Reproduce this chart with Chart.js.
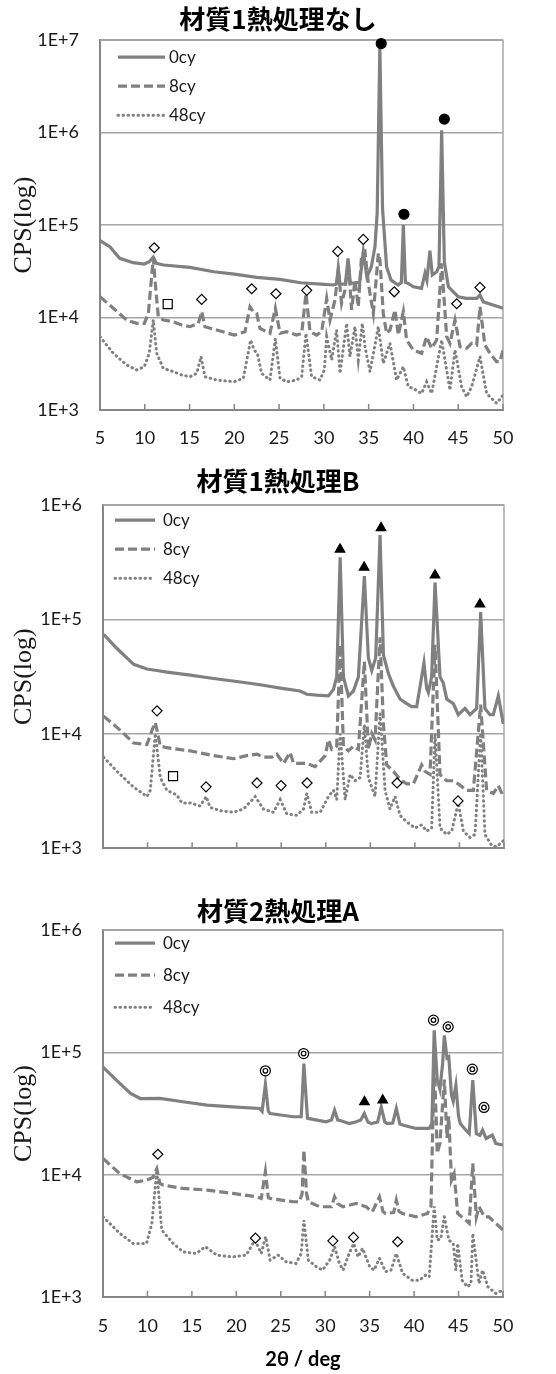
<!DOCTYPE html>
<html>
<head>
<meta charset="utf-8">
<script src="https://cdn.jsdelivr.net/npm/chart.js@4.4.0/dist/chart.umd.min.js"></script>
<style>
  body { margin: 0; background: #fff; width: 556px; height: 1374px; overflow: hidden; }
  .box { position: absolute; left: 0; width: 556px; }
</style>
</head>
<body>
<div class="box" style="top:0;height:455px"><canvas id="c1" width="556" height="455"></canvas></div>
<div class="box" style="top:455px;height:425px"><canvas id="c2" width="556" height="425"></canvas></div>
<div class="box" style="top:880px;height:494px"><canvas id="c3" width="556" height="494"></canvas></div>
<script>
// tick values
const xTicks = [5, 10, 15, 20, 25, 30, 35, 40, 45, 50];
const yTicks1 = [1e3, 1e4, 1e5, 1e6, 1e7];
const yTicks23 = [1e3, 1e4, 1e5, 1e6];
const seriesLabels = ['0cy', '8cy', '48cy'];
const titles = ['材質1熱処理なし', '材質1熱処理B', '材質2熱処理A'];

// ---- 材質1熱処理なし : [2θ, CPS]
const c1_0cy = [[5,68000],[6.1,58300],[7.2,43700],[8.7,39200],[9.95,37900],[10.5,40200],[10.95,45000],[11.3,38500],[12.1,37000],[15.05,34900],[17.7,31300],[20,29500],[22.5,27200],[25.1,25900],[27.4,23800],[30.05,22800],[31.05,22500],[31.4,23000],[31.6,34000],[31.8,23000],[32.4,23000],[32.7,43700],[32.95,23500],[34,24000],[34.4,51500],[34.8,27600],[35.3,35500],[35.7,58300],[35.95,134000],[36.25,8500000],[36.55,150000],[37,35500],[37.5,25400],[38.3,22500],[38.65,24000],[38.87,100000],[39.1,24000],[39.42,23400],[40,21500],[40.9,20700],[41.29,30100],[41.5,25400],[41.84,53000],[42.1,28800],[42.6,31300],[42.85,35500],[43.15,1060000],[43.45,40000],[43.9,21500],[45,16800],[45.9,16100],[47.06,16100],[47.43,17500],[47.8,14800],[48.9,13700],[50,12600]];
const c1_8cy = [[5,16800],[6.49,12600],[7.98,9400],[9.09,8650],[9.95,8650],[10.4,11100],[10.66,21500],[10.95,43700],[11.21,21500],[11.51,10200],[12.07,9400],[13.19,9000],[14.12,8300],[15.05,7960],[15.98,8650],[16.35,11600],[16.72,7960],[18.03,7330],[20,6470],[21.19,7030],[21.75,13100],[22.12,11600],[22.5,11100],[22.86,7640],[23.98,6740],[24.58,12600],[25.1,6740],[25.84,7030],[26.96,6470],[27.52,6740],[28,18200],[28.45,7030],[29.19,6470],[29.75,7030],[30.31,16100],[30.68,9400],[31.24,15500],[31.61,32600],[31.98,14200],[32.35,19800],[32.73,40200],[33.1,12100],[33.47,25400],[33.84,13100],[34.21,47400],[34.59,51500],[34.96,23400],[35.52,11100],[36.08,49400],[36.26,41900],[36.63,11100],[37,6740],[37.38,7330],[37.94,12100],[38.31,6470],[38.87,11600],[39.24,5710],[39.98,4460],[40.91,4100],[41.47,6210],[42.03,4650],[42.59,5710],[43.15,38500],[43.71,6210],[44.08,5260],[44.64,9400],[45.2,4840],[45.94,4650],[46.5,5260],[47.06,5050],[47.43,13100],[47.98,5050],[48.54,4100],[49.29,3330],[49.66,3330],[50,4460]];
const c1_48cy = [[5,6210],[6.49,4100],[7.98,3070],[9.09,2710],[9.95,2940],[10.5,4100],[10.95,9400],[11.33,4100],[12.07,2820],[13.19,2600],[14.12,2390],[15.05,2290],[15.8,2490],[16.28,3780],[16.72,2290],[18.03,2110],[20,2020],[21,2200],[21.82,5710],[22.2,4460],[22.57,4100],[23.05,2490],[23.98,2110],[24.58,5900],[25.1,2200],[25.84,2020],[26.96,2110],[27.52,2290],[28,6740],[28.63,2290],[29.56,2110],[30.05,2710],[30.31,6210],[30.87,3480],[31.42,7330],[31.8,2490],[32.54,8650],[32.91,3780],[33.47,7960],[33.84,3480],[34.29,8650],[34.59,4840],[35.15,2600],[36.08,7960],[36.63,3200],[37.38,5260],[38.12,2110],[38.87,2940],[39.42,1790],[39.98,1710],[40.91,1510],[41.47,2020],[42.03,1510],[43.15,5710],[44.08,1640],[44.64,4460],[45.38,1790],[45.94,1390],[46.5,1790],[47.43,3780],[48.17,1510],[49.29,1180],[50,1450]];
const c1Diamonds = [[11.06,56900],[16.35,15700],[21.94,20500],[24.65,18100],[28.08,19700],[31.54,52000],[34.4,70000],[37.86,19000],[44.83,14100],[47.43,21200]];
const c1Squares = [[12.56,14000]];
const c1Circles = [[36.4,9200000],[38.94,131000],[43.45,1400000]];

// ---- 材質1熱処理B
const c2_0cy = [[5.07,74200],[6.57,55800],[8.44,40600],[9.93,36900],[11.05,35800],[12.17,34700],[14.79,32600],[17.41,30500],[20.02,28700],[22.64,26900],[25.25,24900],[27.12,23700],[27.87,22200],[28.99,21800],[30.3,21500],[30.86,24500],[31.23,31500],[31.61,351000],[31.98,31500],[32.54,21500],[33.1,23700],[33.66,31500],[34.33,240000],[34.78,46100],[35.16,35800],[35.6,46100],[36.09,547000],[36.47,49100],[37.03,33600],[37.59,26100],[38.33,20200],[39.08,18400],[39.64,17300],[40.2,17300],[40.76,31500],[41.02,41900],[41.32,25000],[41.51,23000],[41.88,31500],[42.26,211000],[42.82,31500],[43.19,27800],[43.57,20200],[44.31,18400],[44.87,14700],[45.62,16700],[46.19,14700],[46.93,16700],[47.38,116000],[47.86,16700],[48.42,14700],[48.8,14700],[49.36,21500],[49.92,12200]];
const c2_8cy = [[5.07,14300],[6.57,11400],[8.44,8320],[9.93,8060],[10.49,10700],[10.87,12600],[11.43,7810],[12.17,7570],[14.79,7100],[17.41,6450],[19.65,6060],[21.14,6450],[22.27,6660],[23.01,6250],[23.95,6250],[24.51,6660],[25.25,5510],[26,6880],[26.38,5510],[27.87,5510],[28.8,5170],[29.93,6450],[30.3,8870],[30.67,7330],[31.23,7810],[31.61,60000],[31.98,7810],[32.54,7100],[33.1,7810],[33.66,7330],[34.33,43000],[34.78,7330],[35.16,10100],[35.53,8870],[36.09,70000],[36.47,12200],[36.84,5340],[37.59,4700],[38.33,4010],[39.08,3650],[39.83,3650],[40.76,5340],[41.14,4700],[41.7,4410],[42.26,60000],[42.82,4410],[43.57,3890],[44.31,3890],[44.87,3650],[45.81,3210],[46.56,3210],[47.38,18000],[48.05,3210],[48.8,3010],[49.36,3530],[49.92,2830]];
const c2_48cy = [[5.07,6250],[6.57,4700],[8.44,3420],[9.93,2830],[10.31,3210],[10.87,10100],[11.43,4140],[12.17,3210],[12.92,3010],[13.29,2920],[13.86,2490],[14.79,2490],[15.91,2340],[16.58,2830],[17.03,2270],[18.15,2130],[19.65,2060],[20.77,2200],[22.08,2830],[23.01,2200],[24.13,2060],[24.88,2660],[25.62,2000],[26.75,1940],[27.5,2200],[27.87,3010],[28.43,2060],[29.36,2060],[30.3,2830],[30.86,3210],[31.23,2660],[31.61,10000],[32.17,2660],[32.73,4410],[33.29,3890],[33.85,4140],[34.33,12000],[34.78,4140],[35.53,2830],[36.09,15000],[36.65,3210],[37.21,2200],[37.77,2830],[38.33,1940],[39.08,1700],[40.02,1500],[40.76,1600],[41.32,1410],[41.88,1500],[42.26,10000],[42.82,1500],[43.57,1320],[44.13,1410],[44.87,2490],[45.44,1410],[46.19,1240],[46.75,1320],[47.38,10100],[47.86,1320],[48.61,1060],[49.17,1030],[49.92,1160]];
const c2Diamonds = [[11.06,15900],[16.56,3440],[22.28,3720],[24.98,3530],[27.9,3720],[38,3720],[44.84,2590]];
const c2Squares = [[12.86,4270]];
const c2Triangles = [[31.6,411000],[34.3,286000],[36.2,634000],[42.26,244000],[47.3,136000]];

// ---- 材質2熱処理A
const c3_0cy = [[5,76000],[6.5,59400],[8.1,46200],[9.2,42000],[11.4,42100],[14,39500],[16.7,37100],[19.6,35900],[22.6,34800],[22.9,33000],[23.27,55000],[23.6,33000],[23.8,31700],[26.4,29800],[27.3,29800],[27.6,81000],[28,29000],[28.2,28800],[30.1,27100],[30.7,28000],[31.05,33700],[31.4,28000],[31.6,27900],[32.7,26200],[33.5,27100],[34,28000],[34.4,31700],[34.8,27000],[35.2,26200],[35.9,27000],[36.3,35900],[36.7,27000],[37,26200],[37.6,26500],[38,34800],[38.4,26000],[38.7,25500],[40.2,23900],[41.7,23900],[42,26200],[42.26,152000],[42.6,60000],[42.9,50000],[43.2,80000],[43.4,138000],[43.7,90000],[43.9,92000],[44.2,45000],[44.4,40000],[44.7,54000],[45,30000],[45.2,26200],[45.8,23200],[46.2,21700],[46.6,59400],[47,21700],[47.4,21000],[47.7,23200],[48.1,19800],[48.8,21100],[49.2,18000],[50,17500]];
const c3_8cy = [[5,13600],[6.9,10200],[8.8,8750],[9.9,9030],[10.6,9500],[11.05,11200],[11.4,8500],[11.8,8220],[14,7730],[16.7,7490],[19.6,7030],[22.3,6600],[22.8,6400],[23.27,10600],[23.6,6500],[23.8,6400],[26.4,6010],[27.1,6010],[27.4,7000],[27.6,15900],[27.9,7000],[28.1,6010],[29.4,5470],[30.7,5470],[31.05,6600],[31.4,5800],[32,5470],[33.5,5820],[34.6,5470],[35.3,4980],[36.1,6600],[36.5,5000],[36.8,4820],[37.7,4900],[38,6200],[38.3,5000],[38.7,4820],[40.2,4530],[41.5,4820],[41.9,5500],[42.26,90000],[42.6,15000],[42.9,18000],[43.4,60000],[43.7,20000],[43.9,30000],[44.2,9000],[44.5,10200],[44.9,4820],[45.8,4250],[46.2,4000],[46.6,12400],[47,4500],[47.3,5470],[47.9,4530],[48.4,4530],[49.2,4000],[50,3530]];
const c3_48cy = [[5,4530],[6.9,3310],[8.4,2740],[9.9,2740],[10.5,4000],[11.05,10900],[11.6,3530],[12.9,2740],[14,2340],[15.5,2270],[16.5,2580],[17.8,2200],[19.6,2130],[21.1,2200],[22.1,2920],[22.8,2270],[23.3,3110],[23.8,2000],[24.7,2200],[25.6,1940],[26.7,1880],[27.3,2270],[27.6,4250],[28.1,2000],[29,1770],[29.7,1660],[30.5,2000],[31.05,2580],[31.6,1880],[32,1660],[32.7,2270],[33.2,2740],[33.7,2130],[34.2,2500],[35,1770],[35.5,1660],[36.1,2070],[36.8,1610],[37.4,1660],[38,2270],[38.7,1560],[39.8,1370],[40.6,1370],[41.3,1510],[41.7,1460],[42.26,5500],[42.6,2920],[43,3000],[43.4,4530],[43.9,2920],[44.4,2740],[44.7,1660],[44.9,2740],[45.4,1370],[46,1210],[46.4,1290],[46.6,3310],[47.3,1290],[47.7,1660],[48.3,1210],[49.2,1070],[50,1140]];
const c3Diamonds = [[11.17,14700],[22.15,3030],[30.86,2880],[33.18,3070],[38.15,2830]];
const c3Triangles = [[34.41,39400],[36.47,40700]];
const c3Rings = [[23.27,70800],[27.57,98000],[42.18,184000],[43.83,162000],[46.55,73000],[47.86,35500]];

const GRAY = '#808080';
const lineStyles = [
  { borderWidth: 3.2, borderDash: [], borderCapStyle: 'butt' },
  { borderWidth: 3.2, borderDash: [9, 4], borderCapStyle: 'butt' },
  { borderWidth: 3, borderDash: [0.5, 4.5], borderCapStyle: 'round' },
];

function toXY(pts) { return pts.map(([x, y]) => ({ x, y })); }

function seriesSet(pts, i) {
  return Object.assign({
    label: seriesLabels[i],
    inLegend: true,
    data: toXY(pts),
    borderColor: GRAY,
    pointRadius: 0,
    tension: 0,
    order: i,
  }, lineStyles[i]);
}

function markerSet(pts, style, radius, fill) {
  return {
    data: toXY(pts),
    showLine: false,
    pointStyle: style,
    pointRadius: radius,
    pointBackgroundColor: fill,
    pointBorderColor: '#000',
    pointBorderWidth: 1.2,
    borderColor: '#000',
    clip: false,
    order: -1,
  };
}

// frame top/right + small inside ticks on the x axis
const framePlugin = {
  id: 'frame',
  beforeDatasetsDraw(chart) {
    const { ctx, chartArea: a, scales } = chart;
    ctx.save();
    ctx.strokeStyle = '#a6a6a6';
    ctx.lineWidth = 1.5;
    ctx.beginPath();
    ctx.moveTo(a.left, a.top);
    ctx.lineTo(a.right, a.top);
    ctx.lineTo(a.right, a.bottom);
    ctx.stroke();
    ctx.strokeStyle = '#868686';
    xTicks.forEach(v => {
      const x = scales.x.getPixelForValue(v);
      ctx.beginPath();
      ctx.moveTo(x, a.bottom);
      ctx.lineTo(x, a.bottom - 6);
      ctx.stroke();
    });
    ctx.restore();
  }
};

// legend drawn inside the plot, top-left
const insideLegend = {
  id: 'insideLegend',
  afterDraw(chart, args, opts) {
    const { ctx, chartArea: a } = chart;
    let row = 0;
    chart.data.datasets.forEach(ds => {
      if (!ds.inLegend) return;
      const y = a.top + opts.y0 + row * opts.dy;
      ctx.save();
      ctx.strokeStyle = ds.borderColor;
      ctx.lineWidth = ds.borderWidth;
      ctx.lineCap = ds.borderCapStyle;
      ctx.setLineDash(ds.borderDash);
      ctx.beginPath();
      ctx.moveTo(a.left + opts.x0, y);
      ctx.lineTo(a.left + opts.x1, y);
      ctx.stroke();
      ctx.setLineDash([]);
      ctx.fillStyle = '#1a1a1a';
      ctx.font = '17px Lato';
      ctx.textBaseline = 'middle';
      ctx.fillText(ds.label, a.left + opts.tx, y);
      ctx.restore();
      row++;
    });
  }
};

const tickFont = { family: 'Lato', size: 18 };

function makeChart(id, o) {
  const ctx = document.getElementById(id).getContext('2d');
  return new Chart(ctx, {
    type: 'line',
    data: { datasets: o.datasets },
    options: {
      responsive: false,
      animation: false,
      events: [],
      layout: { padding: 0 },
      plugins: {
        legend: { display: false },
        tooltip: { enabled: false },
        title: {
          display: true,
          text: o.title,
          color: '#000',
          font: { family: 'Noto Sans CJK JP', size: 26, weight: 'bold' },
          padding: o.titlePad,
        },
        insideLegend: o.legend,
      },
      scales: {
        x: {
          type: 'linear',
          min: 5,
          max: 50,
          afterBuildTicks: s => { s.ticks = xTicks.map(v => ({ value: v })); },
          afterFit: s => { s.height = o.xHeight; },
          ticks: { display: o.xLabels, padding: o.xPad, font: tickFont, color: '#1a1a1a', autoSkip: false, maxRotation: 0 },
          grid: { drawOnChartArea: false, drawTicks: false },
          border: { color: '#868686', width: 2 },
          title: {
            display: !!o.xTitle,
            text: o.xTitle || '',
            color: '#000',
            font: { family: 'Lato', size: 20, weight: 'bold' },
            padding: { top: 0, bottom: 2 },
          },
        },
        y: {
          type: 'logarithmic',
          min: 1e3,
          max: o.yMax,
          afterBuildTicks: s => { s.ticks = o.yTicks.map(v => ({ value: v })); },
          afterFit: s => { s.width = o.yWidth; },
          ticks: {
            callback: v => '1E+' + Math.round(Math.log10(v)),
            padding: 21,
            font: tickFont,
            color: '#1a1a1a',
          },
          grid: { color: '#a6a6a6', lineWidth: 1.5, drawTicks: false },
          border: { color: '#868686', width: 2 },
          title: {
            display: true,
            text: 'CPS(log)',
            color: '#1a1a1a',
            font: { family: 'Liberation Serif', size: 26 },
            padding: { top: 9, bottom: 0 },
          },
        },
        // empty right-hand box so the title stays centred on the whole canvas
        yRight: {
          type: 'linear',
          position: 'right',
          afterFit: s => { s.width = o.padRight; },
          ticks: { display: false },
          grid: { display: false, drawTicks: false },
          border: { display: false },
        },
      },
    },
    plugins: [framePlugin, insideLegend],
  });
}

makeChart('c1', {
  title: titles[0],
  titlePad: { top: 4, bottom: 5 },
  padRight: 53,
  yWidth: 100,
  yMax: 1e7,
  yTicks: yTicks1,
  xHeight: 45,
  xLabels: true,
  xPad: 17,
  legend: { x0: 18, x1: 65, tx: 69, y0: 17, dy: 29 },
  datasets: [
    markerSet(c1Diamonds, 'rectRot', 5, '#fff'),
    markerSet(c1Squares, 'rect', 6.4, '#fff'),
    markerSet(c1Circles, 'circle', 5, '#000'),
    seriesSet(c1_0cy, 0),
    seriesSet(c1_8cy, 1),
    seriesSet(c1_48cy, 2),
  ],
});

makeChart('c2', {
  title: titles[1],
  titlePad: { top: 11, bottom: 8 },
  padRight: 52,
  yWidth: 103,
  yMax: 1e6,
  yTicks: yTicks23,
  xHeight: 12,
  xLabels: false,
  xPad: 17,
  legend: { x0: 12, x1: 52, tx: 60, y0: 15, dy: 29 },
  datasets: [
    markerSet(c2Diamonds, 'rectRot', 5, '#fff'),
    markerSet(c2Squares, 'rect', 6.4, '#fff'),
    markerSet(c2Triangles, 'triangle', 5.5, '#000'),
    seriesSet(c2_0cy, 0),
    seriesSet(c2_8cy, 1),
    seriesSet(c2_48cy, 2),
  ],
});

makeChart('c3', {
  title: titles[2],
  titlePad: { top: 16, bottom: 3 },
  padRight: 53,
  yWidth: 103,
  yMax: 1e6,
  yTicks: yTicks23,
  xHeight: 77,
  xLabels: true,
  xPad: 18,
  xTitle: '2θ / deg',
  legend: { x0: 12, x1: 52, tx: 60, y0: 13, dy: 32 },
  datasets: [
    markerSet(c3Diamonds, 'rectRot', 5, '#fff'),
    markerSet(c3Triangles, 'triangle', 5.5, '#000'),
    markerSet(c3Rings, 'circle', 2.3, '#fff'),
    markerSet(c3Rings, 'circle', 5, '#fff'),
    seriesSet(c3_0cy, 0),
    seriesSet(c3_8cy, 1),
    seriesSet(c3_48cy, 2),
  ],
});
</script>
</body>
</html>
